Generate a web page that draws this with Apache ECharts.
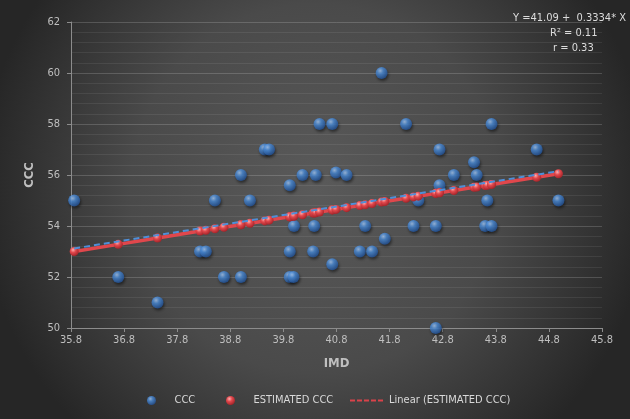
<!DOCTYPE html>
<html><head><meta charset="utf-8">
<script src="https://cdn.jsdelivr.net/npm/echarts@6/dist/echarts.min.js"></script>
<style>html,body{margin:0;padding:0;background:#3a3a3a}#c{width:630px;height:419px}</style>
</head><body><div id="c"></div>
<script>
// Observed values (IMD vs CCC)
const imd = [35.86, 36.69, 37.43, 38.23, 38.34, 38.51, 38.68, 39.0, 39.0, 39.17,
  39.45, 39.53, 39.92, 39.92, 39.92, 39.99, 40.0, 40.16, 40.36, 40.38,
  40.41, 40.48, 40.72, 40.72, 40.79, 40.99, 41.24, 41.34, 41.47, 41.65,
  41.71, 42.11, 42.25, 42.34, 42.67, 42.67, 42.74, 42.74, 43.01, 43.39,
  43.44, 43.6, 43.64, 43.72, 43.72, 44.57, 44.98];
const ccc = [55.0, 52.0, 51.0, 53.0, 53.0, 55.0, 52.0, 52.0, 56.0, 55.0,
  57.0, 57.0, 55.6, 53.0, 52.0, 52.0, 54.0, 56.0, 53.0, 54.0,
  56.0, 58.0, 58.0, 52.5, 56.1, 56.0, 53.0, 54.0, 53.0, 60.0,
  53.5, 58.0, 54.0, 55.0, 54.0, 50.0, 57.0, 55.6, 56.0, 56.5,
  56.0, 54.0, 55.0, 54.0, 58.0, 57.0, 55.0];
// Estimated CCC values
const estimatedCcc = [53.0, 53.28, 53.53, 53.8, 53.83, 53.89, 53.95, 54.05, 54.05, 54.11,
  54.2, 54.23, 54.36, 54.36, 54.36, 54.38, 54.39, 54.44, 54.51, 54.51,
  54.52, 54.55, 54.63, 54.63, 54.65, 54.72, 54.8, 54.83, 54.88, 54.94,
  54.96, 55.09, 55.14, 55.17, 55.28, 55.28, 55.3, 55.3, 55.39, 55.52,
  55.53, 55.59, 55.6, 55.63, 55.63, 55.91, 56.05];
// Linear trendline end points
const trendX = [35.86, 44.98];
const trendY = [53.12, 56.15];
// Axis ticks
const xTicks = [35.8, 36.8, 37.8, 38.8, 39.8, 40.8, 41.8, 42.8, 43.8, 44.8, 45.8];
const yTicks = [50, 52, 54, 56, 58, 60, 62];
// Annotation text
const annotation = ['Y =41.09 +  0.3334* X', 'R\u00b2 = 0.11', 'r = 0.33'];

const FONT = "'Liberation Sans Narrow', 'DejaVu Sans Condensed', 'Liberation Sans', sans-serif";
const blueBall = {type:'radial', x:0.38, y:0.32, r:0.75, colorStops:[
  {offset:0, color:'#a9ccf7'}, {offset:0.35, color:'#4d8fdc'}, {offset:1, color:'#1d4a8e'}]};
const redBall = {type:'radial', x:0.38, y:0.32, r:0.75, colorStops:[
  {offset:0, color:'#ffb0b0'}, {offset:0.4, color:'#e2484d'}, {offset:1, color:'#9a1f24'}]};
const legendText = {color:'#d9d9d9', fontSize:11, fontFamily:FONT};

const chart = echarts.init(document.getElementById('c'), null, {renderer:'canvas'});
chart.setOption({
  animation:false,
  backgroundColor:{type:'radial', x:0.5, y:0.45, r:0.8, colorStops:[
    {offset:0, color:'#5a5a5a'}, {offset:0.55, color:'#4a4a4a'}, {offset:1, color:'#262626'}]},
  grid:{left:71, right:28, top:22, bottom:91, containLabel:false},
  xAxis:{
    type:'value', min:xTicks[0], max:xTicks[xTicks.length-1],
    name:'IMD', nameLocation:'middle', nameGap:29,
    nameTextStyle:{color:'#bfbfbf', fontWeight:'bold', fontSize:13, fontFamily:FONT},
    axisLine:{show:true, lineStyle:{color:'#8c8c8c', width:1}},
    axisTick:{show:true, inside:false, length:4, customValues:xTicks, lineStyle:{color:'#8c8c8c'}},
    axisLabel:{customValues:xTicks, color:'#bfbfbf', fontSize:11, fontFamily:FONT, margin:7,
      formatter:v=>Number(v).toFixed(1)},
    splitLine:{show:false}
  },
  yAxis:{
    type:'value', min:yTicks[0], max:yTicks[yTicks.length-1], interval:2,
    name:'CCC', nameLocation:'middle', nameGap:28, nameRotate:90,
    nameTextStyle:{color:'#bfbfbf', fontWeight:'bold', fontSize:13, fontFamily:FONT},
    axisLine:{show:true, lineStyle:{color:'#8c8c8c', width:1}},
    axisTick:{show:true, length:4, lineStyle:{color:'#8c8c8c'}},
    axisLabel:{color:'#bfbfbf', fontSize:11, fontFamily:FONT, margin:11},
    splitLine:{show:true, lineStyle:{color:'rgba(255,255,255,0.17)', width:1}},
    minorTick:{show:false, splitNumber:5},
    minorSplitLine:{show:true, lineStyle:{color:'rgba(255,255,255,0.075)', width:1}}
  },
  legend:[
    {left:142, top:390, itemWidth:36, itemHeight:9, textStyle:legendText,
     data:[{name:'CCC', icon:'circle'}]},
    {left:221, top:390, itemWidth:36, itemHeight:9, textStyle:legendText,
     data:[{name:'ESTIMATED CCC', icon:'circle'}]},
    {left:344, top:390, itemWidth:34, itemHeight:9, textStyle:legendText,
     data:[{name:'Linear (ESTIMATED CCC)',
            itemStyle:{color:'rgba(0,0,0,0)', borderWidth:0, opacity:0},
            lineStyle:{color:'#d9434a', type:[5,2], width:2}}]}
  ],
  graphic:[
    {type:'text', right:4, top:13, style:{text:annotation[0], fill:'#dcdcdc', font:'11px '+FONT}},
    {type:'text', left:550, top:28, style:{text:annotation[1], fill:'#dcdcdc', font:'11px '+FONT}},
    {type:'text', left:553, top:43, style:{text:annotation[2], fill:'#dcdcdc', font:'11px '+FONT}}
  ],
  series:[
    {
      name:'CCC', type:'scatter', z:2,
      data:imd.map((x,i)=>[x, ccc[i]]),
      symbol:'circle', symbolSize:12,
      itemStyle:{color:blueBall, shadowBlur:3, shadowColor:'rgba(0,0,0,0.6)', shadowOffsetX:1, shadowOffsetY:2}
    },
    {
      name:'ESTIMATED CCC', type:'line', z:3,
      data:imd.map((x,i)=>[x, estimatedCcc[i]]),
      symbol:'circle', symbolSize:9, showSymbol:true,
      lineStyle:{color:'#e0474c', width:3.5},
      itemStyle:{color:redBall}
    },
    {
      name:'Linear (ESTIMATED CCC)', type:'line', z:4,
      data:trendX.map((x,i)=>[x, trendY[i]]),
      symbol:'none', showSymbol:false,
      lineStyle:{color:'#4f8fd8', width:2, type:[6,4]}
    }
  ]
});
</script>
</body></html>
